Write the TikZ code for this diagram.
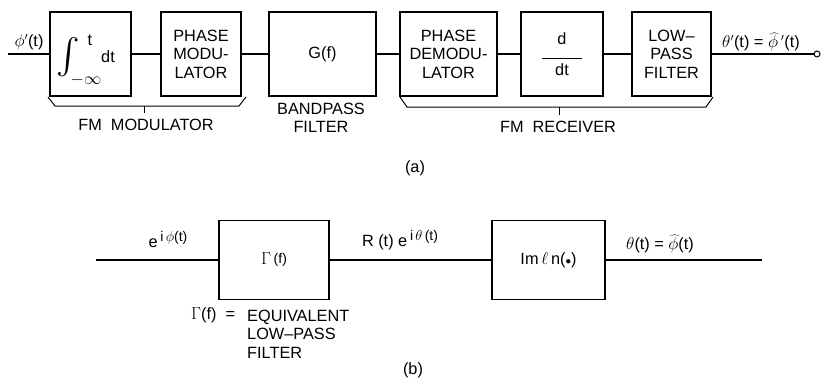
\documentclass[tikz,border=0pt]{standalone}
\usepackage{fontspec}
\setmainfont{Liberation Sans}
\newcommand{\supx}[1]{\raisebox{6pt}{\fontsize{14}{14}\selectfont #1}}
\begin{document}
\begin{tikzpicture}[x=1pt,y=-1pt,
  blk/.style={draw,line width=1.1pt,inner sep=0pt,align=center},
  sig/.style={line width=2.6pt},
  brk/.style={line width=1pt},
  lbl/.style={inner sep=0pt,align=center},
  every node/.style={font=\fontsize{16.3}{18.5}\selectfont}]
\useasboundingbox (0,0) rectangle (822,378);
% ---- (a)
\node[blk,minimum width=81pt,minimum height=84pt] (int) at (90.5,54) {};
\node[lbl] (intsign) at (68,57.5) {\resizebox{!}{35pt}{$\int$}};
\node[lbl] (intt) at (90,40) {t};
\node[lbl] (intdt) at (108,57) {dt};
\node[lbl] (intinf) at (86,80) {$-\infty$};
\node[blk,minimum width=80pt,minimum height=84pt] (pm) at (201,54) {PHASE\\MODU-\\LATOR};
\node[blk,minimum width=107pt,minimum height=84pt] (g) at (322.5,54) {G(f)};
\node[blk,minimum width=97pt,minimum height=84pt] (pd) at (448.5,54) {PHASE\\DEMODU-\\LATOR};
\node[blk,minimum width=82pt,minimum height=84pt] (ddt) at (562,54) {d\\[-4pt]\rule{40pt}{0.8pt}\\[-2pt]dt};
\node[blk,minimum width=79pt,minimum height=84pt] (lpf) at (671.5,54) {LOW--\\PASS\\FILTER};
\coordinate (ain) at (8,54);
\node[draw,circle,line width=1pt,fill=white,inner sep=0pt,minimum size=6pt] (aout) at (817,54) {};
\draw[sig] (ain) -- (int.west);
\draw[sig] (int.east) -- (pm.west);
\draw[sig] (pm.east) -- (g.west);
\draw[sig] (g.east) -- (pd.west);
\draw[sig] (pd.east) -- (ddt.west);
\draw[sig] (ddt.east) -- (lpf.west);
\draw[line width=2pt] (lpf.east) -- (aout.west);
\node[lbl] (lin) at (29,42) {$\phi'$(t)};
\node[lbl] (lout) at (761,42) {$\theta'$(t) = $\widehat{\phi}\,'$(t)};
% braces
\coordinate (m1) at (48,97);
\coordinate (m2) at (246,97);
\draw[brk] (m1) -- (55,106) -- (239,106) -- (m2);
\draw[brk] (144,106) -- (144,113);
\node[lbl] (fmm) at (146,125) {FM\ \ MODULATOR};
\coordinate (r1) at (400,97);
\coordinate (r2) at (713,97);
\draw[brk] (r1) -- (407,107) -- (706,107) -- (r2);
\draw[brk] (559,107) -- (559,115);
\node[lbl] (fmr) at (558,127) {FM\ \ RECEIVER};
\node[lbl] (bpf) at (321,118) {BANDPASS\\FILTER};
\node[lbl] (capa) at (415,168) {(a)};
% ---- (b)
\node[blk,minimum width=110pt,minimum height=79pt] (gam) at (274,260) {$\Gamma$\,\raisebox{1pt}{\fontsize{14}{14}\selectfont(f)}};
\node[blk,minimum width=113pt,minimum height=79pt] (iml) at (548.5,260) {$\mathrm{I}$m\,$\ell$\,n($\scriptstyle\bullet$)};
\coordinate (bin) at (96,260);
\coordinate (bout) at (762,260);
\draw[line width=2.3pt] (bin) -- (gam.west);
\draw[line width=2.3pt] (gam.east) -- (iml.west);
\draw[line width=2.3pt] (iml.east) -- (bout);
\node[lbl] (lb1) at (168,240) {e\,\supx{i\,$\phi$(t)}};
\node[lbl] (lb2) at (400,240) {R (t) e\,\supx{i\,$\theta$\,(t)}};
\node[lbl] (lb3) at (660,244) {$\theta$(t) = $\widehat{\phi}$(t)};
\node[lbl,anchor=west] (eq) at (191,315) {$\Gamma$(f)\ \ =};
\node[lbl,anchor=west,align=left] (eqt) at (247,334) {EQUIVALENT\\LOW--PASS\\FILTER};
\node[lbl] (capb) at (413,370) {(b)};
\end{tikzpicture}
\end{document}
